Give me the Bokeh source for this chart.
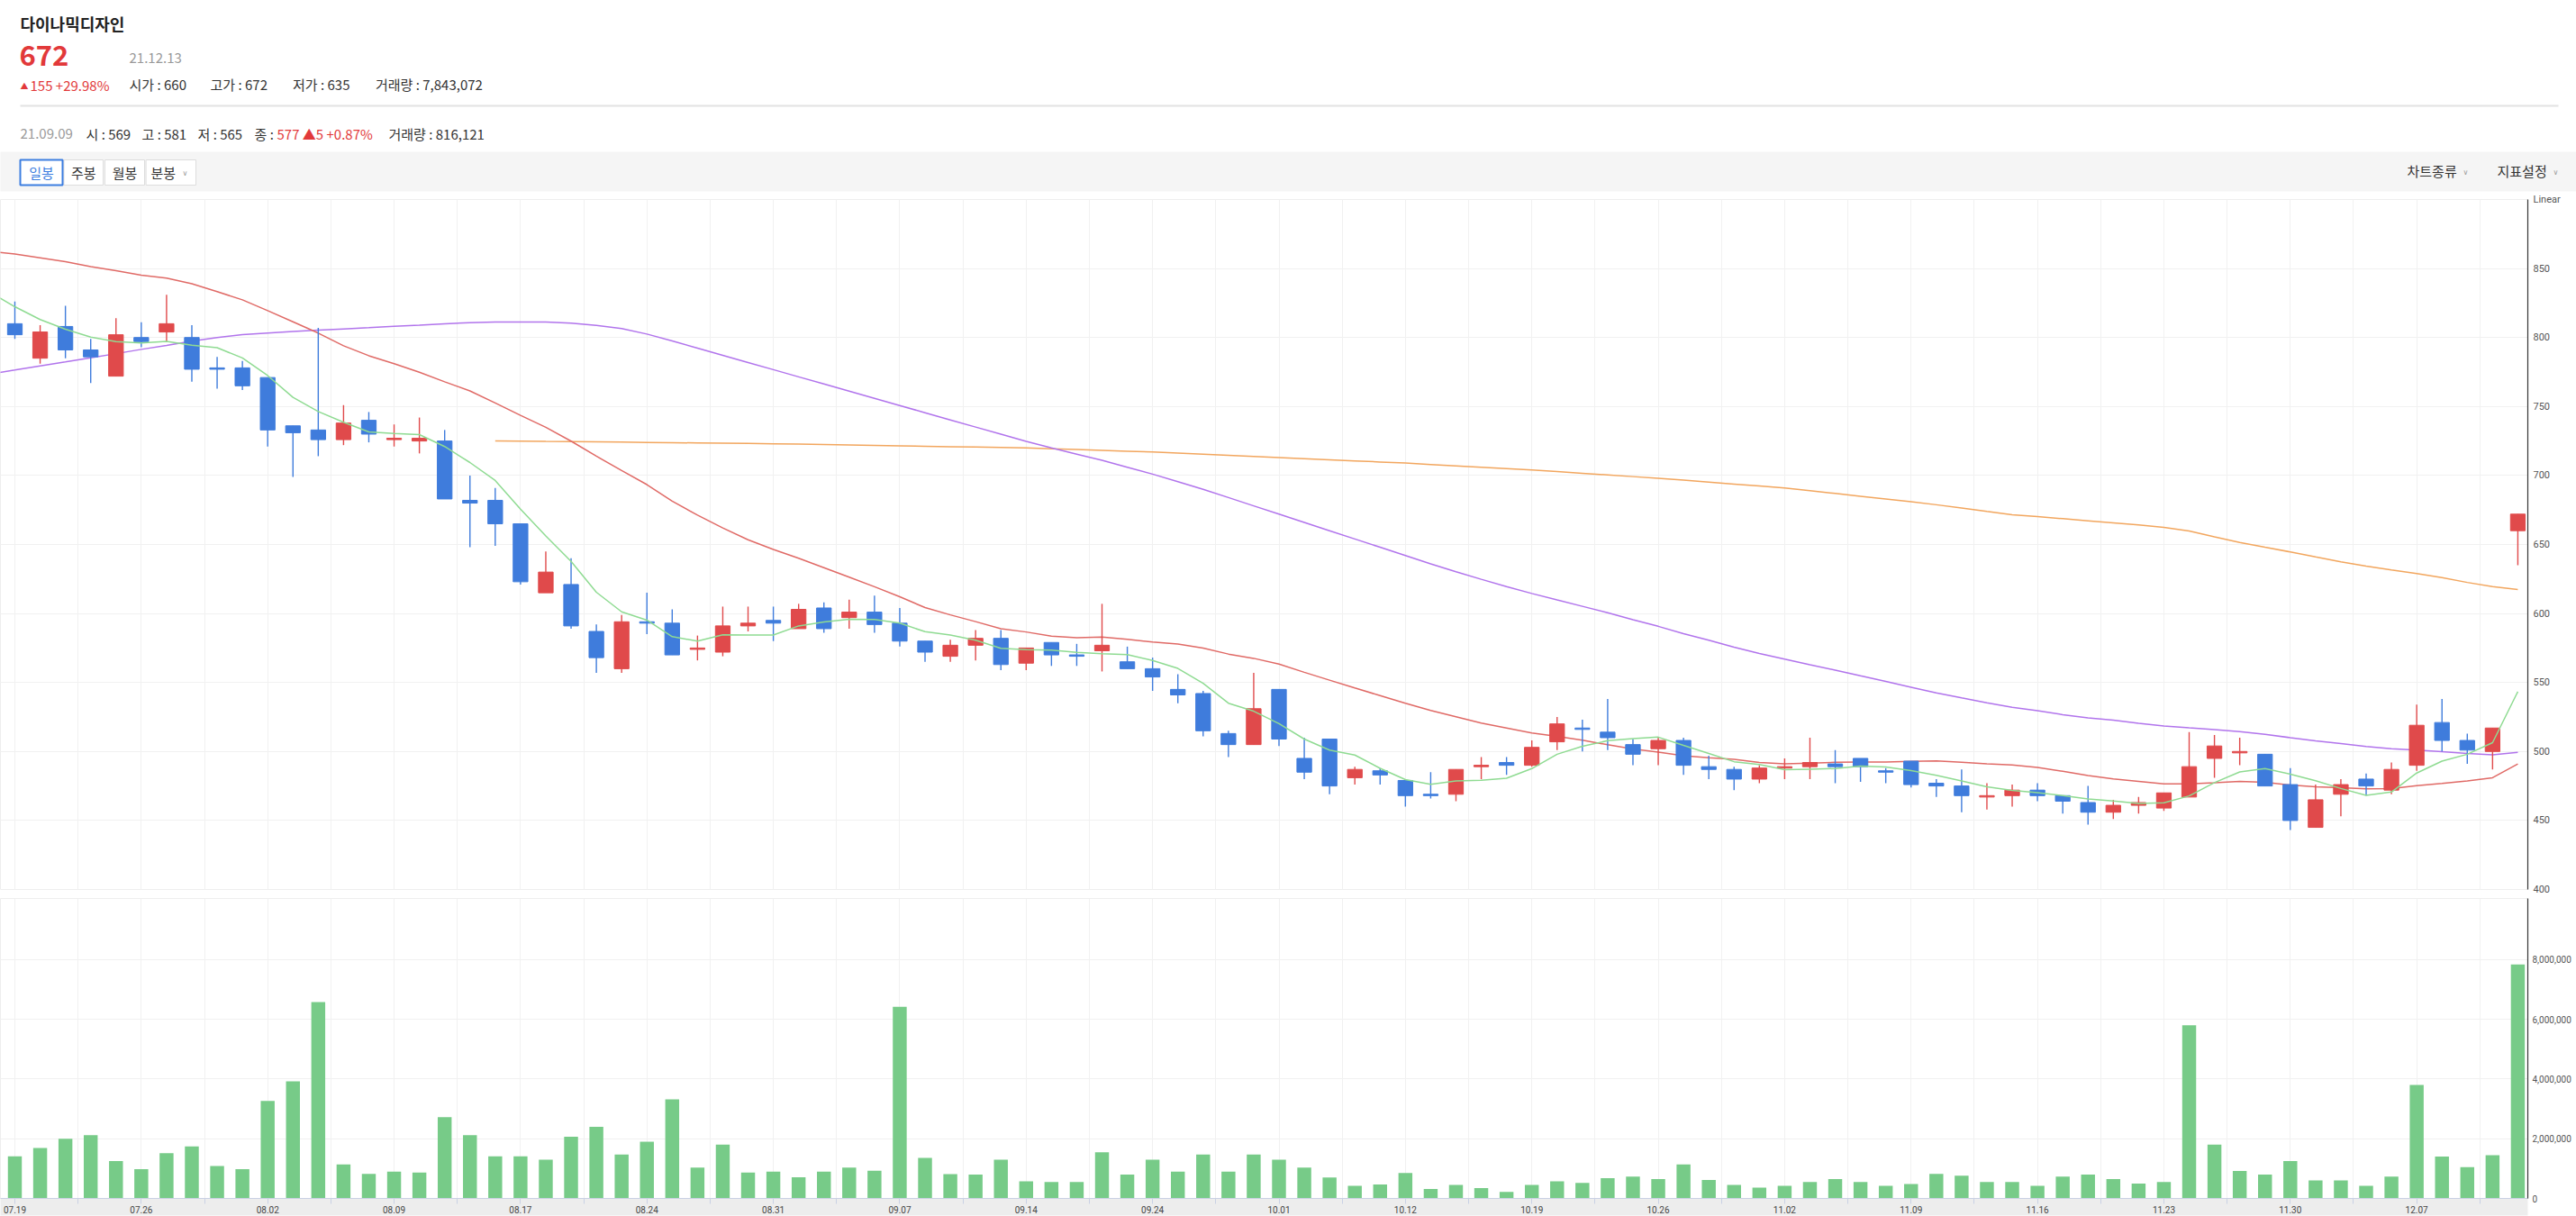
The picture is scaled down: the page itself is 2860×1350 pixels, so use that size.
from bokeh.plotting import figure
from bokeh.layouts import column
from bokeh.models import Range1d, FixedTicker, NumeralTickFormatter, Grid, ColumnDataSource
from bokeh.core.properties import value
from bokeh.embed import file_html
from bokeh.resources import INLINE

NAN = float("nan")

# ---------------- data ----------------
dates = ["07.19", "07.20", "07.21", "07.22", "07.23", "07.26", "07.27", "07.28", "07.29", "07.30",
         "08.02", "08.03", "08.04", "08.05", "08.06", "08.09", "08.10", "08.11", "08.12", "08.13",
         "08.17", "08.18", "08.19", "08.20", "08.23", "08.24", "08.25", "08.26", "08.27", "08.30",
         "08.31", "09.01", "09.02", "09.03", "09.06", "09.07", "09.08", "09.09", "09.10", "09.13",
         "09.14", "09.15", "09.16", "09.17", "09.23", "09.24", "09.27", "09.28", "09.29", "09.30",
         "10.01", "10.05", "10.06", "10.07", "10.08", "10.12", "10.13", "10.14", "10.15", "10.18",
         "10.19", "10.20", "10.21", "10.22", "10.25", "10.26", "10.27", "10.28", "10.29", "11.01",
         "11.02", "11.03", "11.04", "11.05", "11.08", "11.09", "11.10", "11.11", "11.12", "11.15",
         "11.16", "11.17", "11.18", "11.19", "11.22", "11.23", "11.24", "11.25", "11.26", "11.29",
         "11.30", "12.01", "12.02", "12.03", "12.06", "12.07", "12.08", "12.09", "12.10", "12.13"]

opens = [810, 785, 808, 791, 772, 800, 804, 800, 778, 778,
         771, 736, 733, 726, 740, 726, 725, 725, 682, 682,
         665, 615, 621, 587, 560, 594, 593, 574, 572, 591,
         595, 589, 604, 597, 601, 593, 580, 569, 577, 582,
         564, 579, 570, 573, 565, 560, 545, 542, 513, 505,
         545, 495, 509, 481, 486, 479, 469, 469, 489, 492,
         490, 507, 517, 514, 505, 502, 508, 489, 487, 480,
         488, 489, 491, 495, 486, 493, 477, 475, 467, 468,
         472, 468, 463, 456, 461, 459, 467, 495, 499, 498,
         476, 445, 469, 480, 472, 490, 521, 508, 500, 660]
highs = [826, 809, 823, 799, 814, 811, 831, 809, 786, 783,
         771, 736, 807, 751, 746, 737, 742, 733, 700, 691,
         665, 645, 640, 592, 599, 615, 603, 584, 605, 605,
         605, 607, 608, 610, 613, 604, 580, 581, 588, 588,
         575, 579, 578, 607, 576, 568, 556, 544, 515, 557,
         545, 510, 509, 489, 488, 479, 485, 487, 496, 496,
         508, 525, 523, 538, 509, 510, 510, 497, 489, 490,
         495, 510, 501, 495, 488, 493, 480, 487, 477, 476,
         477, 468, 475, 465, 467, 470, 514, 512, 510, 498,
         488, 476, 480, 484, 492, 534, 538, 513, 517, 672]
lows = [799, 781, 785, 767, 772, 793, 797, 768, 763, 762,
        721, 699, 714, 722, 724, 721, 716, 683, 648, 649,
        621, 615, 589, 557, 557, 585, 570, 566, 569, 587,
        580, 589, 586, 589, 586, 576, 565, 565, 566, 559,
        559, 562, 562, 558, 560, 544, 535, 511, 496, 505,
        504, 480, 469, 476, 476, 460, 466, 464, 480, 483,
        489, 501, 500, 501, 490, 490, 483, 480, 472, 477,
        480, 480, 477, 478, 477, 474, 467, 456, 458, 460,
        464, 455, 447, 451, 455, 457, 467, 481, 490, 475,
        443, 445, 453, 468, 469, 486, 500, 491, 487, 635]
closes = [802, 804, 791, 786, 802, 797, 810, 777, 777, 765,
          733, 731, 726, 738, 730, 727, 727, 683, 680, 665,
          623, 630, 591, 568, 594, 593, 570, 575, 591, 593,
          593, 603, 589, 601, 592, 580, 572, 577, 582, 563,
          575, 570, 569, 577, 560, 554, 541, 515, 505, 531,
          509, 485, 475, 487, 483, 468, 468, 487, 490, 490,
          503, 520, 516, 510, 498, 508, 490, 487, 480, 488,
          489, 492, 489, 489, 485, 476, 475, 468, 468, 472,
          468, 464, 456, 461, 463, 470, 489, 504, 500, 475,
          450, 465, 476, 475, 487, 519, 508, 501, 517, 672]
volumes = [1410000, 1690000, 2000000, 2120000, 1250000, 980000, 1520000, 1740000, 1090000, 980000,
           3270000, 3920000, 6580000, 1140000, 820000, 900000, 870000, 2720000, 2120000, 1410000,
           1410000, 1300000, 2070000, 2400000, 1470000, 1900000, 3320000, 1030000, 1800000, 870000,
           900000, 710000, 900000, 1030000, 930000, 6420000, 1360000, 816121, 800000, 1300000,
           570000, 550000, 550000, 1550000, 800000, 1300000, 900000, 1470000, 900000, 1470000,
           1300000, 1030000, 700000, 420000, 470000, 850000, 320000, 450000, 350000, 220000,
           450000, 570000, 520000, 680000, 730000, 650000, 1140000, 620000, 450000, 360000,
           420000, 550000, 650000, 550000, 420000, 480000, 820000, 760000, 550000, 550000,
           420000, 730000, 800000, 650000, 500000, 550000, 5800000, 1800000, 920000, 800000,
           1250000, 600000, 600000, 420000, 730000, 3800000, 1400000, 1050000, 1450000, 7843072]

# moving averages: first value belongs to the session before 07.19 (line enters from the left edge)
ma_x = list(range(-1, 100))
ma5 = [833.0,
       822.3, 813.0, 806.0, 800.3, 797.0, 796.0, 797.2, 794.4, 792.6, 785.2,
       772.4, 756.6, 746.4, 738.6, 731.6, 730.4, 729.6, 721.0, 709.4, 696.4,
       675.6, 656.2, 637.8, 615.4, 601.2, 595.2, 583.2, 580.0, 584.6, 584.4,
       584.4, 591.0, 593.8, 595.8, 595.6, 593.0, 586.8, 584.4, 580.6, 574.8,
       573.8, 573.4, 571.8, 570.8, 570.2, 566.0, 560.2, 549.4, 535.0, 529.2,
       520.2, 509.0, 501.0, 497.4, 487.8, 479.6, 476.2, 478.6, 479.2, 480.6,
       487.6, 498.0, 503.8, 507.8, 509.4, 510.4, 504.4, 498.6, 492.6, 490.6,
       486.8, 487.2, 487.6, 489.4, 488.8, 486.2, 482.8, 478.6, 474.4, 471.8,
       470.2, 468.0, 465.6, 464.2, 462.4, 462.8, 467.8, 477.4, 485.2, 487.6,
       483.6, 478.8, 473.2, 468.2, 470.6, 484.4, 493.0, 498.0, 506.4, 543.4]
ma20 = [862.5,
        860.5, 857.8, 855.0, 851.3, 848.5, 845.2, 843.0, 839.0, 833.2, 827.3,
        819.5, 811.4, 803.2, 794.0, 786.8, 781.0, 774.8, 767.9, 761.3, 752.6,
        743.6, 734.9, 724.9, 714.0, 703.6, 693.4, 681.4, 671.3, 662.0, 653.4,
        646.4, 640.0, 633.2, 626.3, 619.4, 612.1, 604.3, 599.0, 594.1, 589.0,
        586.6, 583.6, 582.5, 583.0, 581.3, 579.3, 577.9, 574.9, 570.6, 567.5,
        563.3, 557.4, 551.7, 546.0, 540.5, 534.9, 529.7, 525.2, 520.6, 517.0,
        513.4, 510.9, 508.2, 504.9, 501.8, 499.5, 496.9, 495.5, 494.3, 492.1,
        491.1, 491.5, 492.2, 492.3, 492.4, 492.8, 493.1, 492.2, 491.1, 490.2,
        488.4, 485.6, 482.6, 480.2, 478.4, 476.5, 476.5, 477.3, 478.3, 477.7,
        475.7, 474.4, 473.7, 473.0, 473.1, 475.3, 476.9, 478.6, 481.0, 491.0]
ma60 = [773.5,
        776.4, 779.4, 782.3, 785.3, 788.3, 791.4, 794.2, 797.3, 799.9, 802.1,
        803.2, 804.3, 805.3, 806.2, 807.1, 808.2, 809.0, 809.9, 810.8, 811.2,
        811.3, 811.2, 810.4, 808.8, 806.5, 802.5, 797.5, 792.3, 787.1, 781.9,
        776.7, 771.5, 766.3, 761.1, 755.9, 750.7, 745.5, 740.3, 735.1, 729.9,
        724.7, 720.0, 715.5, 711.0, 706.0, 701.0, 695.5, 690.0, 684.0, 678.0,
        672.0, 666.0, 660.0, 654.0, 648.0, 642.0, 636.0, 630.3, 624.8, 619.5,
        614.5, 609.8, 605.2, 600.6, 595.5, 590.7, 585.4, 580.6, 575.6, 571.0,
        566.9, 562.9, 559.0, 554.8, 550.8, 546.6, 542.4, 538.8, 535.3, 532.0,
        529.5, 526.7, 524.4, 522.7, 520.5, 518.4, 517.1, 515.9, 514.4, 512.4,
        510.0, 507.7, 505.8, 503.7, 502.0, 501.0, 499.9, 498.6, 497.6, 499.4]
ma120 = [NAN] * 20 + [
        725.0, 724.9, 724.7, 724.6, 724.4, 724.2, 724.0, 723.8, 723.6, 723.4,
        723.2, 723.0, 722.7, 722.4, 722.1, 721.8, 721.5, 721.2, 720.9, 720.6,
        720.3, 720.0, 719.4, 718.8, 718.2, 717.6, 717.0, 716.2, 715.4, 714.6,
        713.8, 713.0, 712.2, 711.4, 710.6, 709.8, 709.0, 708.0, 707.0, 706.0,
        705.0, 704.0, 702.8, 701.6, 700.4, 699.2, 698.0, 696.6, 695.2, 693.8,
        692.4, 691.0, 689.0, 687.0, 685.0, 683.0, 681.0, 678.8, 676.5, 674.0,
        671.6, 670.2, 668.7, 667.2, 665.7, 664.2, 662.4, 659.8, 655.5, 651.5,
        648.0, 644.6, 641.0, 637.5, 634.3, 631.5, 628.9, 626.0, 622.5, 619.5,
        617.3]

price_ticks = [400, 450, 500, 550, 600, 650, 700, 750, 800, 850, 900]
volume_ticks = [0, 2000000, 4000000, 6000000, 8000000]

# ---------------- styling ----------------
W = 2860
N = len(closes)
KR = "Noto Sans CJK KR"
RED = "#E04A4B"
BLUE = "#3F7CDC"
GRID = "#F1F1F1"
HH = 213

# ---------------- header ----------------
hdr = figure(width=W, height=HH, x_range=Range1d(0, W), y_range=Range1d(HH, 0),
             x_axis_location=None, y_axis_location=None, toolbar_location=None,
             output_backend="svg", min_border=0, outline_line_color=None)
hdr.grid.visible = False
try:
    hdr.frame_align = False
except Exception:
    pass


def txt(x, y, s, size, color, style="normal", align="left", font=KR):
    hdr.text(x=[x], y=[y], text=[s], text_font=value(font), text_font_size=size,
             text_color=color, text_font_style=style, text_align=align,
             text_baseline="middle")


txt(22, 25, "다이나믹디자인", "18px", "#222222", "bold")
txt(21, 61, "672", "31px", "#E2393A", "bold")
txt(143, 64, "21.12.13", "15px", "#9A9A9A")
txt(22, 95, "▲", "9px", "#E2393A")
txt(33, 94, "155 +29.98%", "15px", "#E2393A")
txt(143, 92.5, "시가 : 660", "15px", "#333333")
txt(233, 92.5, "고가 : 672", "15px", "#333333")
txt(324.5, 92.5, "저가 : 635", "15px", "#333333")
txt(416.5, 92.5, "거래량 : 7,843,072", "15px", "#333333")

hdr.segment(x0=[22], y0=[117], x1=[2840], y1=[117], line_color="#E2E2E2", line_width=2)

txt(22, 147.5, "21.09.09", "15px", "#9A9A9A")
txt(95, 147.5, "시 : 569", "15px", "#333333")
txt(157, 147.5, "고 : 581", "15px", "#333333")
txt(219, 147.5, "저 : 565", "15px", "#333333")
txt(282, 147.5, "종 :", "15px", "#333333")
txt(307, 147.5, "577 ▲5 +0.87%", "15px", "#E2393A")
txt(431, 147.5, "거래량 : 816,121", "15px", "#333333")

hdr.quad(left=[-5], right=[W + 5], top=[168], bottom=[212], fill_color="#F5F5F5", line_color=None)
hdr.quad(left=[70.5, 116, 161.6], right=[114, 160, 217], top=[177] * 3, bottom=[205] * 3,
         fill_color="white", line_color="#DDDDDD", line_width=1)
hdr.quad(left=[22], right=[69], top=[177], bottom=[205], fill_color="white",
         line_color="#3D7EE0", line_width=2)
txt(45.5, 191, "일봉", "15px", "#3D7EE0", align="center")
txt(92.3, 191, "주봉", "15px", "#333333", align="center")
txt(138, 191, "월봉", "15px", "#333333", align="center")
txt(167, 191, "분봉", "15px", "#333333")
txt(202, 192, "∨", "8px", "#9A9A9A", font="DejaVu Sans")
txt(2672, 189, "차트종류", "15px", "#333333")
txt(2734, 191, "∨", "8px", "#9A9A9A", font="DejaVu Sans")
txt(2772, 189, "지표설정", "15px", "#333333")
txt(2834, 191, "∨", "8px", "#9A9A9A", font="DejaVu Sans")

# ---------------- shared x range ----------------
RB = 54                      # right border (axis labels)
px_day = 28.07
x0 = (0 - 16) / px_day
x1 = (W - RB - 16) / px_day
xr = Range1d(x0, x1)

major_x = list(range(0, N, 5))
minor_x = [m + 2.5 for m in major_x]
xticker = FixedTicker(ticks=major_x, minor_ticks=minor_x)

# ---------------- price pane ----------------
price = figure(width=W, height=780, x_range=xr, y_range=Range1d(400, 900),
               x_axis_location=None, y_axis_location="right", toolbar_location=None,
               output_backend="svg", min_border_left=0, min_border_right=RB,
               min_border_top=8, min_border_bottom=6, outline_line_color="#EEEEEE")
price.xgrid.visible = False
price.add_layout(Grid(dimension=0, ticker=xticker, grid_line_color=GRID,
                      minor_grid_line_color=GRID))
price.yaxis.ticker = FixedTicker(ticks=price_ticks)
price.yaxis.major_label_overrides = {900: "Linear"}
price.ygrid.grid_line_color = GRID
ya = price.yaxis[0]
ya.axis_line_color = "#333333"
ya.axis_line_width = 1.2
ya.major_tick_line_color = None
ya.minor_tick_line_color = None
ya.major_tick_out = 0
ya.major_label_standoff = 6
ya.major_label_text_font = "Roboto"
ya.major_label_text_font_size = "11px"
ya.major_label_text_color = "#555555"

colors = [RED if c >= o else BLUE for o, c in zip(opens, closes)]
src = ColumnDataSource(dict(
    x=list(range(N)), high=highs, low=lows,
    top=[max(o, c) for o, c in zip(opens, closes)],
    bot=[min(o, c) for o, c in zip(opens, closes)],
    color=colors))

price.line(ma_x, ma120, line_color="#F2A65E", line_width=1.5)
price.line(ma_x, ma60, line_color="#B174EC", line_width=1.5)
price.line(ma_x, ma20, line_color="#E06A66", line_width=1.5)
price.segment(x0="x", y0="high", x1="x", y1="low", line_color="color", line_width=1.4, source=src)
price.vbar(x="x", width=0.58, top="top", bottom="bot", fill_color="color",
           line_color="color", line_width=1, source=src)
price.line(ma_x, ma5, line_color="#8FDB92", line_width=1.5)

# ---------------- volume pane ----------------
vol = figure(width=W, height=1350 - HH - 780, x_range=xr, y_range=Range1d(0, 10.05e6),
             x_axis_location="below", y_axis_location="right", toolbar_location=None,
             output_backend="svg", min_border_left=0, min_border_right=RB,
             min_border_top=4, min_border_bottom=20, outline_line_color="#EEEEEE")
vol.vbar(x=list(range(N)), width=0.55, top=volumes, bottom=0, fill_color="#77CB88", line_color=None)

xa = vol.xaxis[0]
xa.ticker = xticker
xa.major_label_overrides = {i: dates[i] for i in major_x}
xa.axis_line_color = "#C9D1E4"
xa.major_tick_line_color = "#C9D1E4"
xa.minor_tick_line_color = "#C9D1E4"
xa.major_tick_in = 0
xa.minor_tick_in = 0
xa.major_tick_out = 6
xa.minor_tick_out = 6
xa.major_label_standoff = 2
xa.major_label_text_font = "Roboto"
xa.major_label_text_font_size = "10px"
xa.major_label_text_color = "#444444"
try:
    xa.background_fill_color = "#EDEDED"
except Exception:
    pass
vol.xgrid.grid_line_color = GRID
vol.xgrid.minor_grid_line_color = GRID

vy = vol.yaxis[0]
vy.ticker = FixedTicker(ticks=volume_ticks)
vy.formatter = NumeralTickFormatter(format="0,0")
vy.axis_line_color = "#333333"
vy.axis_line_width = 1.2
vy.major_tick_line_color = None
vy.minor_tick_line_color = None
vy.major_tick_out = 0
vy.major_label_standoff = 5
vy.major_label_text_font = "Roboto"
vy.major_label_text_font_size = "10px"
vy.major_label_text_color = "#555555"
vol.ygrid.grid_line_color = GRID

layout = column(hdr, price, vol, spacing=0)
open("out.html", "w").write(file_html(layout, INLINE))
